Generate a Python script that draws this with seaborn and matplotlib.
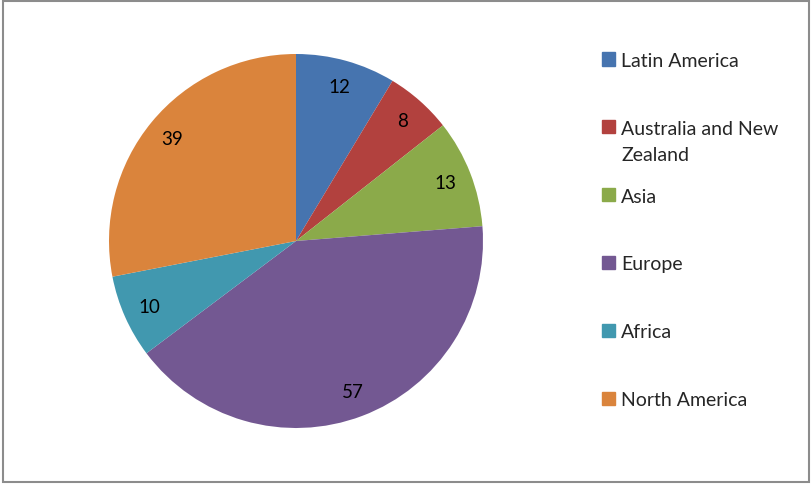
import matplotlib.pyplot as plt
import matplotlib.patches as mpatches
import seaborn as sns

regions = ['Latin America', 'Australia and New\nZealand', 'Asia', 'Europe', 'Africa', 'North America']
counts = [12, 8, 13, 57, 10, 39]
colors = ['#4674AF', '#B2413E', '#8BAA4A', '#735892', '#4198AF', '#DA843C']

sns.set_theme(style='white')
plt.rcParams['font.family'] = ['Lato', 'DejaVu Sans']

W, H = 811, 485
fig = plt.figure(figsize=(W / 100, H / 100), dpi=100)

# pie centre (296, 242) px, radius 187 px
cx, cy, r = 296, 242, 187
ax = fig.add_axes([(cx - r) / W, (H - cy - r) / H, 2 * r / W, 2 * r / H])
total = sum(counts)
wedges, texts, autotexts = ax.pie(
    counts, colors=colors, startangle=90, counterclock=False,
    autopct=lambda p: f'{round(p * total / 100)}', pctdistance=0.86,
    wedgeprops=dict(linewidth=0))
for t in autotexts:
    t.set_fontsize(13.5)
    t.set_color('black')
ax.set_xlim(-1, 1)
ax.set_ylim(-1, 1)
ax.set_aspect('equal')
ax.axis('off')

# legend drawn by hand so wrapped labels align on the first line
for i, (lab, col) in enumerate(zip(regions, colors)):
    y = 60 + i * 67.8
    fig.patches.append(mpatches.Rectangle(
        (602 / W, 1 - (y + 6.5) / H), 13 / W, 13 / H,
        transform=fig.transFigure, color=col))
    fig.text(621 / W, 1 - (y - 7) / H, lab, fontsize=14, va='top', ha='left',
             linespacing=1.65)

# chart border
fig.patches.append(mpatches.Rectangle(
    (2.5 / W, 2.5 / H), (W - 5) / W, (H - 4.5) / H, transform=fig.transFigure,
    fill=False, edgecolor='#8C8C8C', linewidth=1.5))

fig.savefig('out.png', dpi=100)
